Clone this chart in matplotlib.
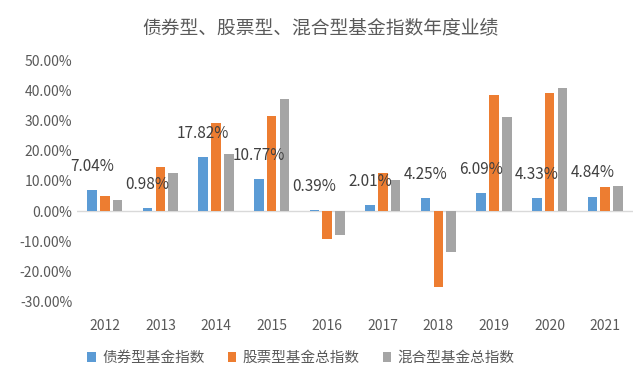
import matplotlib.pyplot as plt
import numpy as np

plt.rcParams['font.family'] = ['Noto Sans CJK SC', 'DejaVu Sans']

years = ['2012', '2013', '2014', '2015', '2016', '2017', '2018', '2019', '2020', '2021']
bond = [7.04, 0.98, 17.82, 10.77, 0.39, 2.01, 4.25, 6.09, 4.33, 4.84]
stock = [4.9, 14.7, 29.1, 31.6, -9.2, 12.8, -25.0, 38.6, 39.0, 8.0]
mixed = [3.8, 12.5, 18.8, 37.0, -7.9, 10.2, -13.5, 31.2, 40.8, 8.3]
names = ['债券型基金指数', '股票型基金总指数', '混合型基金总指数']
colors = ['#5B9BD5', '#ED7D31', '#A5A5A5']
yticks = [-30, -20, -10, 0, 10, 20, 30, 40, 50]

txt = '#595959'
fig = plt.figure(figsize=(6.4, 3.82), dpi=100)
ax = fig.add_axes([77 / 640, 1 - 305 / 382, 556 / 640, 248 / 382])

x = np.arange(len(years))
w = 0.17
step = 0.23
for i, (vals, c, n) in enumerate(zip([bond, stock, mixed], colors, names)):
    ax.bar(x + (i - 1) * step, vals, width=w, color=c, label=n, zorder=3)

for xi, v in zip(x, bond):
    ax.annotate('%.2f%%' % v, (xi - step, v), xytext=(0, 17), textcoords='offset points',
                ha='center', va='center', fontsize=11, color='#404040', zorder=4)

ax.axhline(0, color='#D9D9D9', lw=1, zorder=2)
ax.set_ylim(-31, 51)
ax.set_xlim(-0.5, len(years) - 0.5)
ax.set_yticks(yticks)
ax.set_yticklabels(['%.2f%%' % t for t in yticks])
ax.set_xticks(x)
ax.set_xticklabels(years)
ax.tick_params(axis='both', length=0, colors=txt, labelsize=10)
ax.tick_params(axis='x', pad=10)
for s in ax.spines.values():
    s.set_visible(False)

fig.suptitle('债券型、股票型、混合型基金指数年度业绩', y=0.955, fontsize=13.5, color=txt)
fig.legend(loc='lower center', bbox_to_anchor=(0.47, 0.01), ncol=3, frameon=False,
           fontsize=10.5, handlelength=0.6, handleheight=0.6, handletextpad=0.4,
           columnspacing=1.6, labelcolor=txt)

fig.savefig('out.png', dpi=100)
